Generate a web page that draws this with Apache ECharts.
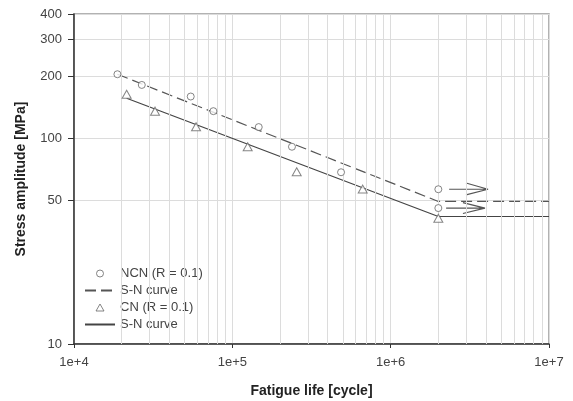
<!DOCTYPE html>
<html>
<head>
<meta charset="utf-8">
<script src="https://cdn.jsdelivr.net/npm/echarts@6/dist/echarts.min.js"></script>
<style>
  html, body { margin: 0; padding: 0; background: #fff; }
  #chart { width: 573px; height: 401px; }
</style>
</head>
<body>
<div id="chart"></div>
<script>
  // tick values
  const yTicks = [10, 50, 100, 200, 300, 400];
  const xMinorGrid = [2e4, 3e4, 4e4, 5e4, 6e4, 7e4, 8e4, 9e4,
    2e5, 3e5, 4e5, 5e5, 6e5, 7e5, 8e5, 9e5,
    2e6, 3e6, 4e6, 5e6, 6e6, 7e6, 8e6, 9e6];

  // NCN (R = 0.1) test points
  const ncnLife = [18800, 26800, 54600, 75900, 146800, 238000, 486000, 2000000, 2000000];
  const ncnStress = [204, 181, 159, 135, 113, 90.7, 68.2, 56.4, 45.7];

  // CN (R = 0.1) test points
  const cnLife = [21500, 32500, 59000, 125000, 255000, 666000, 2000000];
  const cnStress = [163, 135, 113.5, 90.7, 68.6, 56.5, 40.8];

  // S-N curves (fitted line + fatigue limit)
  const ncnCurve = [[18800, 204], [2000000, 49.2], [10000000, 49.2]];
  const cnCurve = [[21500, 156], [2000000, 41.6], [10000000, 41.6]];

  // run-out arrows
  const runoutArrows = [
    [2.34e6, 56.4], [4.12e6, 56.4], '-', [2.99e6, 60.5], [4.12e6, 56.4], [2.99e6, 53.0], '-',
    [2.24e6, 45.7], [3.94e6, 45.7], '-', [2.86e6, 48.6], [3.94e6, 45.7], [2.86e6, 43.0]
  ];

  const zip = (xs, ys) => xs.map((x, i) => [x, ys[i]]);

  const labelColor = '#444';
  const markColor = '#666';
  const font = 'Liberation Sans, Arial';

  const option = {
    animation: false,
    grid: {
      left: 74, right: 24, top: 14, bottom: 57,
      outerBoundsMode: 'none',
      show: true,
      borderColor: '#999',
      borderWidth: 1.5
    },
    legend: {
      orient: 'vertical',
      left: 79,
      top: 262,
      itemWidth: 30,
      itemHeight: 7,
      itemGap: 4,
      textStyle: { fontFamily: font, fontSize: 13, color: labelColor },
      data: [
        { name: 'NCN (R = 0.1)', icon: 'circle', itemStyle: { color: '#fff', borderColor: markColor, borderWidth: 1 } },
        { name: 'S-N curve', itemStyle: { opacity: 0 } },
        { name: 'CN (R = 0.1)', icon: 'path://M4,0L8,7L0,7Z', itemStyle: { color: '#fff', borderColor: markColor, borderWidth: 1 } },
        { name: 'S-N curve ', itemStyle: { opacity: 0 } }
      ]
    },
    xAxis: {
      type: 'log',
      logBase: 10,
      min: 1e4,
      max: 1e7,
      name: 'Fatigue life [cycle]',
      nameLocation: 'middle',
      nameGap: 40,
      nameTextStyle: { fontFamily: font, fontSize: 14, fontWeight: 'bold', color: '#222' },
      axisLine: { lineStyle: { color: '#333', width: 1.5 } },
      axisTick: { length: 4, lineStyle: { color: '#333' } },
      axisLabel: {
        margin: 12,
        fontFamily: font,
        fontSize: 13,
        color: labelColor,
        formatter: (v) => '1e+' + Math.round(Math.log10(v))
      },
      splitLine: { show: true, lineStyle: { color: '#dcdcdc', width: 1 } }
    },
    yAxis: {
      type: 'log',
      logBase: 10,
      min: 10,
      max: 400,
      name: 'Stress amplitude [MPa]',
      nameLocation: 'middle',
      nameGap: 46,
      nameTextStyle: { fontFamily: font, fontSize: 14, fontWeight: 'bold', color: '#222' },
      axisLine: { show: true, lineStyle: { color: '#333', width: 1.5 } },
      axisTick: { show: true, length: 6, customValues: yTicks, lineStyle: { color: '#333' } },
      axisLabel: {
        margin: 12,
        customValues: yTicks,
        fontFamily: font,
        fontSize: 13,
        color: labelColor
      },
      splitLine: { show: true, lineStyle: { color: '#dcdcdc', width: 1 } }
    },
    series: [
      {
        // minor vertical grid lines
        type: 'line',
        data: [],
        silent: true,
        z: 0,
        markLine: {
          silent: true,
          symbol: 'none',
          label: { show: false },
          lineStyle: { color: '#dcdcdc', type: 'solid', width: 1 },
          data: xMinorGrid.map((v) => ({ xAxis: v }))
        }
      },
      {
        name: 'NCN (R = 0.1)',
        type: 'scatter',
        symbol: 'circle',
        symbolSize: 7,
        itemStyle: { color: '#fff', borderColor: markColor, borderWidth: 1 },
        data: zip(ncnLife, ncnStress),
        z: 5
      },
      {
        name: 'S-N curve',
        type: 'line',
        symbol: 'none',
        lineStyle: { color: '#555', width: 1.2, type: [11, 5] },
        itemStyle: { color: '#555' },
        data: ncnCurve,
        z: 3
      },
      {
        name: 'CN (R = 0.1)',
        type: 'scatter',
        symbol: 'triangle',
        symbolSize: [9, 8],
        itemStyle: { color: '#fff', borderColor: markColor, borderWidth: 1 },
        data: zip(cnLife, cnStress),
        z: 5
      },
      {
        name: 'S-N curve ',
        type: 'line',
        symbol: 'none',
        lineStyle: { color: '#444', width: 1.2, type: 'solid' },
        itemStyle: { color: '#444' },
        data: cnCurve,
        z: 3
      },
      {
        type: 'line',
        symbol: 'none',
        silent: true,
        connectNulls: false,
        lineStyle: { color: '#555', width: 1.2 },
        data: runoutArrows,
        z: 4
      }
    ]
  };

  const myChart = echarts.init(document.getElementById('chart'));
  myChart.setOption(option);
</script>
</body>
</html>
